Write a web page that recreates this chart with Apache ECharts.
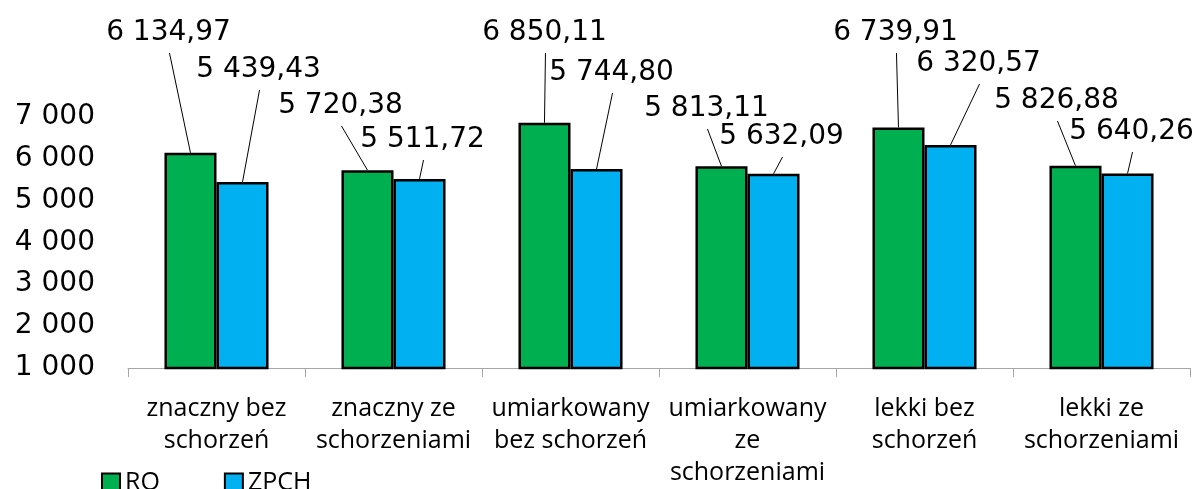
<!DOCTYPE html>
<html>
<head>
<meta charset="utf-8">
<script src="https://cdn.jsdelivr.net/npm/echarts@6/dist/echarts.min.js"></script>
<style>
  html, body { margin: 0; padding: 0; background: #fff; }
  #chart { width: 1199px; height: 489px; }
</style>
</head>
<body>
<div id="chart"></div>
<script>
// dane
var categories = [
  'znaczny bez\nschorzeń',
  'znaczny ze\nschorzeniami',
  'umiarkowany\nbez schorzeń',
  'umiarkowany\nze\nschorzeniami',
  'lekki bez\nschorzeń',
  'lekki ze\nschorzeniami'
];
var roValues = [6134.97, 5720.38, 6850.11, 5813.11, 6739.91, 5826.88];
var zpchValues = [5439.43, 5511.72, 5744.80, 5632.09, 6320.57, 5640.26];
var yTicks = [1000, 2000, 3000, 4000, 5000, 6000, 7000];

var barGapRatio = 0.412;   // barCategoryGap

// polish number format: "6 134,97"
function fmt(v, dec) {
  var parts = v.toFixed(dec).split('.');
  parts[0] = parts[0].replace(/\B(?=(\d{3})+(?!\d))/g, ' ');
  return parts.join(',');
}

// label placement like in the excel file: dx from bar centre, y = text row
var labelPos = {
  RO:   { side: -1, dx: [-22, -27, 0, -15, -3, -19], y: [31, 104, 31, 107, 31, 99] },
  ZPCH: { side: 1,  dx: [16, 3, 15, 8, 28, 4],       y: [68, 138, 71, 135, 62, 130] }
};

function barSeries(name, values, color) {
  return {
    name: name,
    type: 'bar',
    data: values,
    barGap: '0%',
    barCategoryGap: (barGapRatio * 100) + '%',
    itemStyle: { color: color, borderColor: '#000', borderWidth: 2.5 },
    z: 2
  };
}

// data labels with leader lines, drawn from the same values
function labelSeries(name, values) {
  var p = labelPos[name];
  return {
    name: name + ' labels',
    type: 'custom',
    z: 5,
    silent: true,
    data: values.map(function (v, i) { return [i, v]; }),
    renderItem: function (params, api) {
      var i = api.value(0);
      var top = api.coord([i, api.value(1)]);
      var barW = api.size([1, 0])[0] * (1 - barGapRatio) / 2;
      var bx = top[0] + p.side * barW / 2;
      var lx = bx + p.dx[i];
      var ly = p.y[i];
      return {
        type: 'group',
        children: [
          {
            type: 'line',
            shape: { x1: lx + 1, y1: ly + 22, x2: bx, y2: top[1] },
            style: { stroke: '#000', lineWidth: 1 }
          },
          {
            type: 'text',
            x: lx,
            y: ly + 2,
            style: {
              text: fmt(api.value(1), 2),
              fontFamily: 'DejaVu Sans',
              fontSize: 28,
              fill: '#000',
              align: 'center',
              verticalAlign: 'middle'
            }
          }
        ]
      };
    }
  };
}

var chart = echarts.init(document.getElementById('chart'));
var option = {
  animation: false,
  grid: { left: 128, right: 9, top: 116.5, bottom: 121 },
  legend: {
    left: 96,
    top: 465,
    itemWidth: 18,
    itemHeight: 18,
    itemGap: 64,
    icon: 'rect',
    textStyle: { fontFamily: 'Open Sans', fontSize: 25, lineHeight: 20, color: '#000' },
    data: ['RO', 'ZPCH']
  },
  xAxis: {
    type: 'category',
    data: categories,
    axisLine: { lineStyle: { color: '#A6A6A6', width: 1 } },
    axisTick: { show: true, length: 9, lineStyle: { color: '#A6A6A6' } },
    axisLabel: {
      interval: 0,
      margin: 25,
      fontFamily: 'Open Sans',
      fontSize: 25,
      lineHeight: 32,
      color: '#000'
    }
  },
  yAxis: {
    type: 'value',
    min: yTicks[0],
    max: yTicks[yTicks.length - 1],
    interval: 1000,
    splitLine: { show: false },
    axisLine: { show: false },
    axisTick: { show: false },
    axisLabel: {
      margin: 33,
      fontFamily: 'DejaVu Sans',
      fontSize: 28,
      color: '#000',
      formatter: function (v) { return fmt(v, 0); }
    }
  },
  series: [
    barSeries('RO', roValues, '#00B050'),
    barSeries('ZPCH', zpchValues, '#00B0F0'),
    labelSeries('RO', roValues),
    labelSeries('ZPCH', zpchValues)
  ]
};
chart.setOption(option);
</script>
</body>
</html>
